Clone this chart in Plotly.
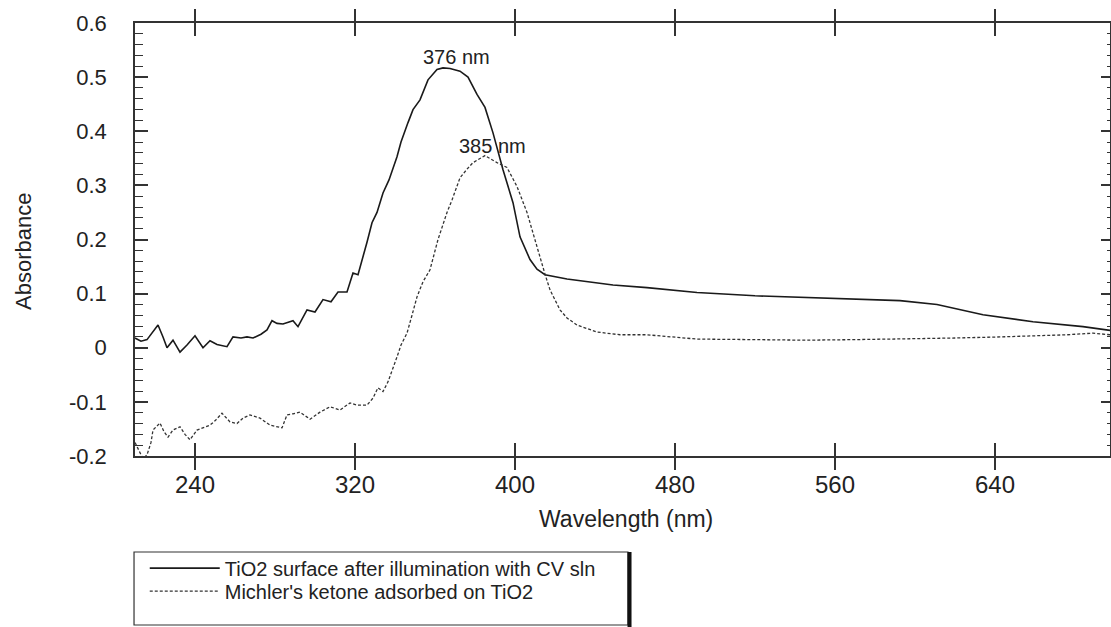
import plotly.graph_objects as go

# ---- data ----
tio2_nm = [210, 213, 216, 219, 221.5, 224, 226, 229, 232.5, 236, 240, 244, 247.5, 251, 256, 259, 263, 266, 269,
           273, 276, 278.5, 281, 284, 287, 289, 291.5, 294, 296, 300, 304, 308, 311.5, 316, 319, 321.5, 324, 326,
           328.5, 331, 334, 337, 341, 343, 346.5, 349, 352.5, 356.5, 361, 364, 367.5, 372.5, 376.5, 381, 385, 389,
           394, 399, 402.5, 407.5, 411, 415, 426, 436, 449, 466, 491, 520, 550, 575, 592.5, 611, 634, 659, 684, 697.5]
tio2_abs = [0.018, 0.012, 0.015, 0.03, 0.042, 0.02, 0.0, 0.014, -0.008, 0.005, 0.022, 0.0, 0.013, 0.006, 0.002,
            0.02, 0.018, 0.02, 0.018, 0.025, 0.033, 0.05, 0.045, 0.044, 0.048, 0.05, 0.039, 0.055, 0.07, 0.066,
            0.089, 0.085, 0.103, 0.103, 0.138, 0.135, 0.166, 0.195, 0.231, 0.25, 0.286, 0.31, 0.353, 0.38, 0.416,
            0.44, 0.458, 0.495, 0.514, 0.517, 0.516, 0.511, 0.5, 0.468, 0.444, 0.397, 0.329, 0.268, 0.205, 0.163,
            0.145, 0.135, 0.127, 0.122, 0.116, 0.111, 0.102, 0.096, 0.092, 0.089, 0.087, 0.08, 0.061, 0.048,
            0.039, 0.032]

mk_nm = [210, 212, 214, 216, 218, 219, 222.5, 224.5, 226.5, 229, 232.5, 235, 237.5, 241, 244, 247.5, 250, 253.5,
         257.5, 261, 264, 267.5, 272.5, 277.5, 283.5, 286, 289, 292.5, 297.5, 302.5, 307.5, 312.5, 317.5, 321, 326,
         329, 331.5, 334, 336.5, 339, 341, 343, 346, 348.5, 351, 354, 357.5, 361.5, 363.5, 366, 368.5, 372.5, 376,
         379, 385, 391, 396, 401, 406, 408.5, 410.5, 412.5, 415, 417.5, 422.5, 426, 431, 441, 452.5, 466, 491, 520,
         545, 570, 592.5, 620, 642.5, 660, 676, 689, 697.5]
mk_abs = [-0.175, -0.19, -0.205, -0.198, -0.175, -0.152, -0.139, -0.155, -0.165, -0.152, -0.146, -0.16, -0.17,
          -0.152, -0.148, -0.143, -0.135, -0.121, -0.137, -0.14, -0.13, -0.124, -0.13, -0.143, -0.148, -0.124,
          -0.122, -0.119, -0.132, -0.119, -0.109, -0.115, -0.102, -0.106, -0.106, -0.093, -0.074, -0.081, -0.063,
          -0.035, -0.017, 0.005, 0.027, 0.06, 0.094, 0.122, 0.144, 0.2, 0.222, 0.25, 0.273, 0.314, 0.33, 0.342,
          0.355, 0.342, 0.333, 0.298, 0.25, 0.218, 0.19, 0.166, 0.136, 0.107, 0.07, 0.055, 0.042, 0.029, 0.024,
          0.024, 0.016, 0.015, 0.014, 0.015, 0.016, 0.018, 0.02, 0.022, 0.024, 0.027, 0.024]

x_tick_vals = [240, 320, 400, 480, 560, 640]
x_tick_text = ["240", "320", "400", "480", "560", "640"]
y_tick_vals = [-0.2, -0.1, 0.0, 0.1, 0.2, 0.3, 0.4, 0.5, 0.6]
y_tick_text = ["-0.2", "-0.1", "0", "0.1", "0.2", "0.3", "0.4", "0.5", "0.6"]

series_names = ["TiO2 surface after illumination with CV sln", "Michler's ketone adsorbed on TiO2"]
peak_labels = ["376 nm", "385 nm"]
peak_label_pos = [(370.5, 0.538), (388.5, 0.372)]

X_RANGE = [210, 697.5]
Y_RANGE = [-0.2, 0.6]
FONT = "Liberation Sans, Arial, Helvetica, sans-serif"
INK = "#222222"

fig = go.Figure()
fig.add_trace(go.Scatter(x=tio2_nm, y=tio2_abs, mode="lines", name=series_names[0],
                         line=dict(color="#1a1a1a", width=1.6), xaxis="x", yaxis="y",
                         legend="legend"))
fig.add_trace(go.Scatter(x=mk_nm, y=mk_abs, mode="lines", name=series_names[1],
                         line=dict(color="#333333", width=1.3, dash="3px,2px"), xaxis="x2", yaxis="y2",
                         legend="legend2"))

for txt, (px, py) in zip(peak_labels, peak_label_pos):
    fig.add_annotation(x=px, y=py, xref="x", yref="y", text=txt, showarrow=False,
                       xanchor="center", yanchor="middle", font=dict(family=FONT, size=20, color=INK))

# axis titles
fig.add_annotation(x=-0.1149, y=0.4734, xref="paper", yref="paper", text="Absorbance", textangle=-90,
                   showarrow=False, xanchor="center", yanchor="middle", font=dict(family=FONT, size=22, color=INK))
fig.add_annotation(x=0.5036, y=-0.1455, xref="paper", yref="paper", text="Wavelength (nm)",
                   showarrow=False, xanchor="center", yanchor="middle", font=dict(family=FONT, size=23, color=INK))

# legend frame
fig.add_shape(type="rect", xref="paper", yref="paper", x0=-0.001, x1=0.5056, y0=-0.3903, y1=-0.2217,
              line=dict(color="#333333", width=1.2), fillcolor="rgba(0,0,0,0)")
fig.add_shape(type="line", xref="paper", yref="paper", x0=0.5072, x1=0.5072, y0=-0.45, y1=-0.2217,
              line=dict(color="#111111", width=4))

axis_common = dict(range=X_RANGE, tickvals=x_tick_vals, ticktext=x_tick_text, showgrid=False, zeroline=False)
fig.update_layout(
    width=1111, height=627,
    margin=dict(l=135, r=1, t=23, b=171),
    paper_bgcolor="white", plot_bgcolor="white",
    font=dict(family=FONT, color=INK),
    xaxis=dict(**axis_common, ticks="inside", ticklen=13, tickwidth=1.5, tickcolor="#333",
               showline=True, linewidth=1.5, linecolor="#333", mirror="ticks",
               tickfont=dict(size=24, color=INK), ticklabelstandoff=6),
    xaxis2=dict(**axis_common, overlaying="x", ticks="outside", ticklen=13, tickwidth=1.5, tickcolor="#333",
                showline=False, mirror="ticks", showticklabels=False),
    yaxis=dict(range=Y_RANGE, tickvals=y_tick_vals, ticktext=y_tick_text, showgrid=False, zeroline=False,
               ticks="inside", ticklen=13, tickwidth=1.5, tickcolor="#333",
               minor=dict(tickmode="linear", tick0=-0.2, dtick=0.02, ticks="inside", ticklen=8,
                          tickwidth=1.2, tickcolor="#333", showgrid=False),
               showline=True, linewidth=1.5, linecolor="#333",
               tickfont=dict(size=22, color=INK), ticklabelstandoff=22),
    yaxis2=dict(range=Y_RANGE, tickvals=y_tick_vals, overlaying="y", side="right", showgrid=False,
                zeroline=False, ticks="inside", ticklen=9, tickwidth=1.5, tickcolor="#333",
                minor=dict(tickmode="linear", tick0=-0.2, dtick=0.02, ticks="inside", ticklen=3,
                           tickwidth=1.2, tickcolor="#333", showgrid=False),
                showline=True, linewidth=1.5, linecolor="#333", showticklabels=False),
    legend=dict(x=0.01, y=-0.259, xref="paper", yref="paper", xanchor="left", yanchor="middle",
                bgcolor="rgba(0,0,0,0)", borderwidth=0, itemwidth=70,
                font=dict(family=FONT, size=20, color=INK)),
    legend2=dict(x=0.01, y=-0.312, xref="paper", yref="paper", xanchor="left", yanchor="middle",
                 bgcolor="rgba(0,0,0,0)", borderwidth=0, itemwidth=70,
                 font=dict(family=FONT, size=20, color=INK)),
    showlegend=True,
)

fig.write_html("out.html")
